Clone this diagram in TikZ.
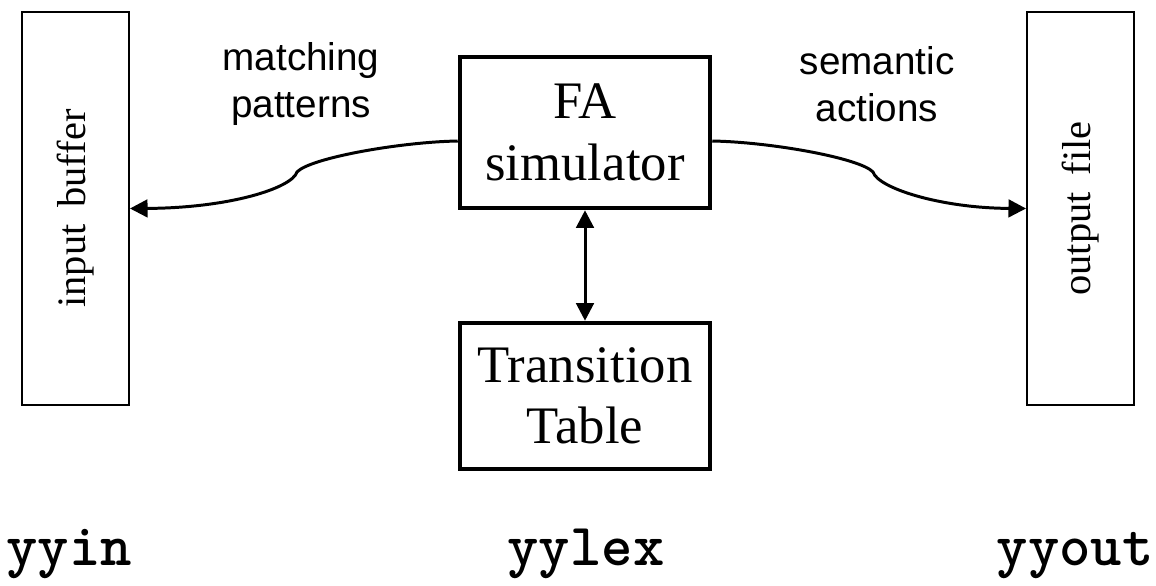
\documentclass[tikz,border=0pt]{standalone}
\usepackage{fontspec}
\setmainfont{Liberation Serif}
\setsansfont{Liberation Sans}
\newfontfamily\codigo{lmmonolt10-bold.otf}
\usetikzlibrary{arrows.meta}
\begin{document}
\begin{tikzpicture}[x=0.02cm,y=-0.02cm,
    lado/.style={draw,line width=1.1pt,rotate=90,minimum width=7.86cm,minimum height=2.14cm,
      inner sep=0pt,font=\fontsize{23}{27}\selectfont},
    caja/.style={draw,line width=2.6pt,minimum width=5cm,align=center,inner sep=0pt,
      font=\fontsize{30}{35}\selectfont},
    etiq/.style={align=center,font=\sffamily\fontsize{22}{27}\selectfont},
    nombre/.style={inner sep=0pt,font=\codigo\fontsize{34}{38}\selectfont},
    flecha/.style={line width=1.7pt,-{Triangle[length=10pt,width=10pt]}}]
    \useasboundingbox (0,0) rectangle (1156,585);
    % Cajas laterales
    \node[lado] (inbuf) at (75.5,208.5) {input\, buffer};
    \node[lado] (outfile) at (1080.5,208.5) {output\, file};
    % Cajas centrales
    \node[caja,minimum height=3.02cm] (fa) at (585,132.5) {FA\\simulator};
    \node[caja,minimum height=2.92cm] (tt) at (585,396) {Transition\\Table};
    % Etiquetas
    \node[etiq] (lblmatch) at (301,84) {matching\\patterns};
    \node[etiq] (lblsem) at (877,84) {semantic\\actions};
    % Conectores
    \coordinate (quiebreI) at (297,172);
    \coordinate (quiebreD) at (873,172);
    \draw[flecha] ([yshift=-0.17cm]fa.west) .. controls (400,142) and (310,158) .. (quiebreI)
        .. controls (292,188) and (230,208) .. (inbuf.south);
    \draw[flecha] ([yshift=-0.17cm]fa.east) .. controls (770,142) and (860,158) .. (quiebreD)
        .. controls (878,188) and (940,208) .. (outfile.north);
    \draw[line width=1.7pt,{Triangle[length=10pt,width=10pt]}-{Triangle[length=10pt,width=10pt]}] (fa.south) -- (tt.north);
    % Nombres
    \node[nombre,anchor=base west] (yyin) at (6,565) {yyin};
    \node[nombre,anchor=base] (yylex) at (586,565) {yylex};
    \node[nombre,anchor=base east] (yyout) at (1154,565) {yyout};
\end{tikzpicture}
\end{document}
